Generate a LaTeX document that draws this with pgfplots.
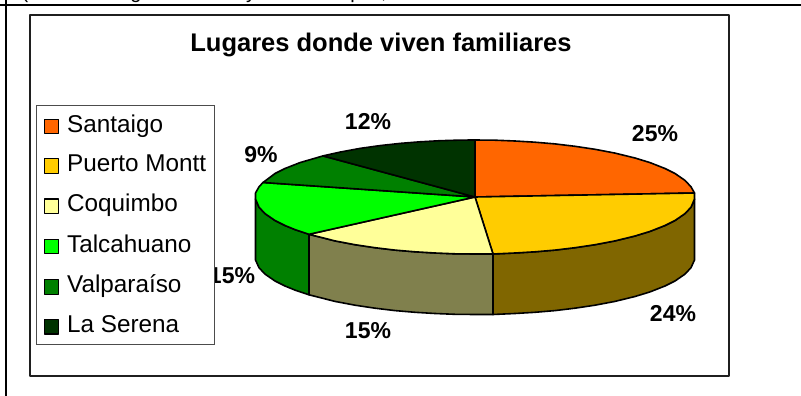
\documentclass[border=0pt]{standalone}
\usepackage{pgfplots}
\pgfplotsset{compat=1.18}
\usepackage{fontspec}
\setmainfont{Liberation Sans}
\definecolor{cSan}{HTML}{FF6600}
\definecolor{cPue}{HTML}{FFCC00}
\definecolor{cCoq}{HTML}{FFFF99}
\definecolor{cTal}{HTML}{00FF00}
\definecolor{cVal}{HTML}{008000}
\definecolor{cSer}{HTML}{003300}
\definecolor{sPue}{HTML}{806600}
\definecolor{sCoq}{HTML}{80804D}
\definecolor{sTal}{HTML}{008000}
\begin{document}
\begin{tikzpicture}
\begin{axis}[
  width=801pt,height=396pt,scale only axis,
  xmin=0,xmax=801,ymin=0,ymax=396,y dir=reverse,
  hide axis,
  legend image code/.code={\draw[#1,draw=black,line width=1.2pt,solid] (0pt,-1.5pt) rectangle (14pt,13pt);},
  legend style={at={(axis cs:35.5,104.5)},anchor=north west,draw=black!70,line width=0.9pt,fill=white,
    font=\fontsize{24.3}{26}\selectfont,inner xsep=8pt,inner ysep=9.7pt,
    row sep=20.6pt,
    nodes={inner sep=0pt,anchor=base west},
    /tikz/column sep=8pt},
  legend cell align=left,
  every axis plot/.append style={line width=1.6pt,line join=round},
]
% background, frames
\addplot[fill=white,draw=none,forget plot] coordinates {(0,0)(801,0)(801,396)(0,396)} -- cycle;
\addplot[draw=black,line width=2pt,forget plot] coordinates {(0,5)(801,5)};
\addplot[draw=black,line width=2pt,forget plot] coordinates {(6,0)(6,396)};
\addplot[fill=white,draw=black!88,line width=2pt,forget plot] coordinates {(30,15.5)(729,15.5)(729,376)(30,376)} -- cycle;
% clipped line of text above
\node[anchor=base,font=\fontsize{20}{20}\selectfont] at (axis cs:25,-1) {(};
\node[anchor=base,font=\fontsize{20}{20}\selectfont] at (axis cs:136,-1.5) {g};
\node[anchor=base,font=\fontsize{20}{20}\selectfont] at (axis cs:251,-1.5) {y};
\node[anchor=base,font=\fontsize{20}{20}\selectfont] at (axis cs:356,-1.5) {p};
\node[anchor=base,font=\fontsize{20}{20}\selectfont] at (axis cs:384,-1.5) {,};
% sides
\addplot[fill=sPue,draw=black,forget plot] coordinates {(694.5,199)(691,207.2)(685,213.6)(675,220.5)(665,225.5)(650,231.4)(635,236)(615,240.9)(595,244.7)(575,247.7)(555,250.1)(535,251.8)(515,253)(493,254)(493,314.5)(515,313.5)(535,312.3)(555,310.6)(575,308.2)(595,305.2)(615,301.4)(635,296.5)(650,291.9)(665,286)(675,281)(685,274.1)(691,267.7)(694.5,260)} -- cycle;
\addplot[fill=sCoq,draw=black,forget plot] coordinates {(493,254)(475,254)(455,253.8)(435,253)(415,251.8)(395,250.1)(375,247.7)(355,244.7)(335,240.9)(309,234.3)(309,294.8)(335,301.4)(355,305.2)(375,308.2)(395,310.6)(415,312.3)(435,313.5)(455,314.3)(475,314.5)(493,314.5)} -- cycle;
\addplot[fill=sTal,draw=black,forget plot] coordinates {(309,234.3)(295,229.6)(285,225.5)(275,220.5)(265,213.6)(259,207.2)(255.5,199)(255.5,260)(259,267.7)(265,274.1)(275,281)(285,286)(295,290.1)(309,294.8)} -- cycle;
% tops
\addplot[fill=cSan,draw=black] coordinates {(475,197)(475,140)(495,140.2)(515,141)(535,142.2)(555,143.9)(575,146.3)(595,149.3)(615,153.1)(635,158)(650,162.6)(665,168.5)(675,173.5)(685,180.4)(691,186.8)(694.5,193)} -- cycle;
\addlegendentry{Santaigo}
\addplot[fill=cPue,draw=black] coordinates {(475,197)(694.5,193)(694.5,199)(691,207.2)(685,213.6)(675,220.5)(665,225.5)(650,231.4)(635,236)(615,240.9)(595,244.7)(575,247.7)(555,250.1)(535,251.8)(515,253)(493,254)} -- cycle;
\addlegendentry{Puerto Montt}
\addplot[fill=cCoq,draw=black] coordinates {(475,197)(493,254)(475,254)(455,253.8)(435,253)(415,251.8)(395,250.1)(375,247.7)(355,244.7)(335,240.9)(309,234.3)} -- cycle;
\addlegendentry{Coquimbo}
\addplot[fill=cTal,draw=black] coordinates {(475,197)(309,234.3)(295,229.6)(285,225.5)(275,220.5)(265,213.6)(259,207.2)(255.5,199)(255.5,193)(259,186.8)(263,182.5)} -- cycle;
\addlegendentry{Talcahuano}
\addplot[fill=cVal,draw=black] coordinates {(475,197)(263,182.5)(275,173.5)(285,168.5)(300,162.6)(323,155.9)} -- cycle;
\addlegendentry{Valparaíso}
\addplot[fill=cSer,draw=black] coordinates {(475,197)(323,155.9)(340,152.1)(360,148.4)(380,145.6)(400,143.4)(420,141.8)(440,140.7)(460,140.1)(475,140)} -- cycle;
\addlegendentry{La Serena}
% title and labels
\node[anchor=base,font=\bfseries\fontsize{25.5}{26}\selectfont] at (axis cs:381,52) {Lugares donde viven familiares};
\node[font=\bfseries\fontsize{23}{24}\selectfont] at (axis cs:655,134) {25\%};
\node[font=\bfseries\fontsize{23}{24}\selectfont] at (axis cs:673,314) {24\%};
\node[font=\bfseries\fontsize{23}{24}\selectfont] at (axis cs:368,331) {15\%};
\node[font=\bfseries\fontsize{23}{24}\selectfont] at (axis cs:232,276) {15\%};
\node[font=\bfseries\fontsize{23}{24}\selectfont] at (axis cs:261,155) {9\%};
\node[font=\bfseries\fontsize{23}{24}\selectfont] at (axis cs:368,122) {12\%};
\end{axis}
\end{tikzpicture}
\end{document}
